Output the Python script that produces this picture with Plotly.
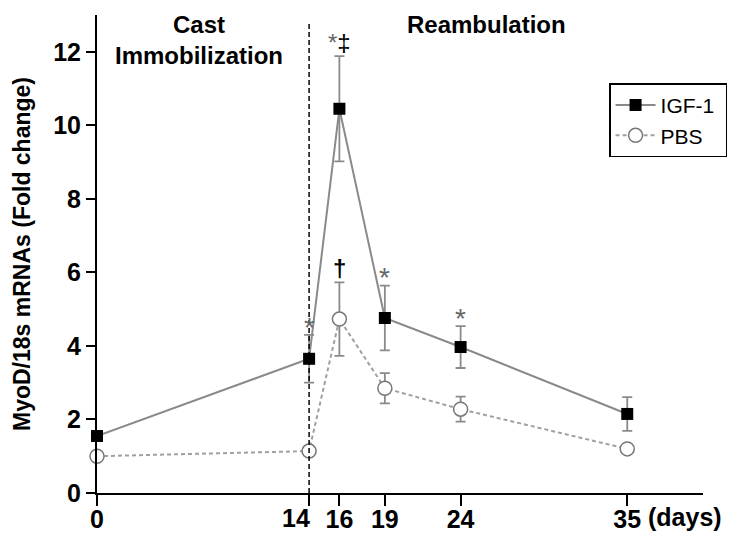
import plotly.graph_objects as go

days = [0, 14, 16, 19, 24, 35]
igf = [1.55, 3.65, 10.45, 4.76, 3.97, 2.15]
igf_err = [0.0, 0.65, 1.43, 0.88, 0.57, 0.46]
pbs = [1.0, 1.14, 4.73, 2.85, 2.28, 1.2]
pbs_err = [0.0, 0.0, 1.0, 0.41, 0.34, 0.05]
tick_days = [0, 14, 16, 19, 24, 35]
tick_text = ["0", "14", "16", "19", "24", "35"]
yticks = [0, 2, 4, 6, 8, 10, 12]

FONT = "Liberation Sans, Arial, sans-serif"
GRAY = "#8a8a8a"
W, H = 749, 542
OFF = 8  # default page body margin offsets the figure

fig = go.Figure()
fig.add_trace(go.Scatter(
    x=days, y=pbs, name="PBS&nbsp;", mode="lines+markers",
    line=dict(color="#a0a0a0", width=2, dash="4px,3px"),
    marker=dict(symbol="circle", size=14, color="white", line=dict(color="#777777", width=1.5)),
    error_y=dict(type="data", array=pbs_err, visible=True, color=GRAY, thickness=1.8, width=5),
))
fig.add_trace(go.Scatter(
    x=days, y=igf, name="IGF-1&nbsp;", mode="lines+markers",
    line=dict(color=GRAY, width=2),
    marker=dict(symbol="square", size=12, color="black"),
    error_y=dict(type="data", array=igf_err, visible=True, color=GRAY, thickness=1.8, width=5),
))

# vertical dashed line at day 14
fig.add_shape(type="line", x0=14, x1=14, y0=0, y1=12.8, xref="x", yref="y",
              line=dict(color="black", width=1.5, dash="5px,3px"))

ann = []
ann.append(dict(x=6.7, y=13.0, text="<b>Cast<br>Immobilization</b>", showarrow=False,
                font=dict(size=24, color="black", family=FONT), yanchor="top", yshift=6))
ann.append(dict(x=25.7, y=13.0, text="<b>Reambulation</b>", showarrow=False,
                font=dict(size=24, color="black", family=FONT), yanchor="top", yshift=6))
# significance markers
ann.append(dict(x=14, y=4.35, text="*", showarrow=False, font=dict(size=28, color="#666666", family=FONT), yanchor="bottom", yshift=-12))
ann.append(dict(x=16, y=11.95, text="<span style='color:#666666'>*</span>‡", showarrow=False, font=dict(size=24, color="black", family=FONT), yanchor="bottom", yshift=-4))
ann.append(dict(x=16, y=5.8, text="<b>†</b>", showarrow=False, font=dict(size=24, color="black", family=FONT), yanchor="bottom", yshift=-4))
ann.append(dict(x=19, y=5.7, text="*", showarrow=False, font=dict(size=28, color="#666666", family=FONT), yanchor="bottom", yshift=-12))
ann.append(dict(x=24, y=4.6, text="*", showarrow=False, font=dict(size=28, color="#666666", family=FONT), yanchor="bottom", yshift=-12))
# day-14 tick label sits to the left of its tick (as in the original), drawn at the axis position
ann.append(dict(x=tick_days[1], y=0, text="<b>%s</b>" % tick_text[1], showarrow=False, xanchor="right",
                yanchor="top", xshift=3, yshift=-9, font=dict(size=25, color="black", family=FONT)))
# (days) label
ann.append(dict(x=35, y=0, text="<b>(days)</b>", showarrow=False, xanchor="left", yanchor="top",
                xshift=19, yshift=-8, font=dict(size=25, color="black", family=FONT)))

axis_text = ["<b>%s</b>" % t for t in tick_text]
axis_text[1] = ""

# desired plot area on screen: left 97, right 703, top 15, bottom 493
fig.update_layout(
    width=W, height=H,
    margin=dict(l=97 - OFF, r=W - (703 - OFF), t=15 - OFF, b=H - (493 - OFF)),
    plot_bgcolor="white", paper_bgcolor="white",
    font=dict(family=FONT, color="black"),
    showlegend=True,
    legend=dict(x=0.845, y=0.857, xanchor="left", yanchor="top",
                bordercolor="black", borderwidth=1.5, bgcolor="white",
                font=dict(size=21, family=FONT, color="black"),
                traceorder="reversed", itemwidth=40, tracegroupgap=2),
    annotations=ann,
    xaxis=dict(range=[0, 40], showgrid=False, zeroline=False, showline=True, automargin=False,
               linecolor="black", linewidth=2, ticks="outside", ticklen=11, tickwidth=1.5,
               tickcolor="black", tickvals=tick_days, ticktext=axis_text,
               ticklabelstandoff=-8,
               tickangle=0, tickfont=dict(size=25, family=FONT, color="black")),
    yaxis=dict(range=[0, 13], showgrid=False, zeroline=False, showline=True, automargin=False,
               linecolor="black", linewidth=2, ticks="outside", ticklen=9, tickwidth=1.5,
               tickcolor="black", tickvals=yticks, ticktext=["<b>%d</b>" % v for v in yticks],
               tickfont=dict(size=25, family=FONT, color="black"),
               title=dict(text="<b>MyoD/18s mRNAs (Fold change)</b>", standoff=16,
                          font=dict(size=23, family=FONT, color="black"))),
)
fig.update_traces(cliponaxis=False)

fig.write_html("out.html")
